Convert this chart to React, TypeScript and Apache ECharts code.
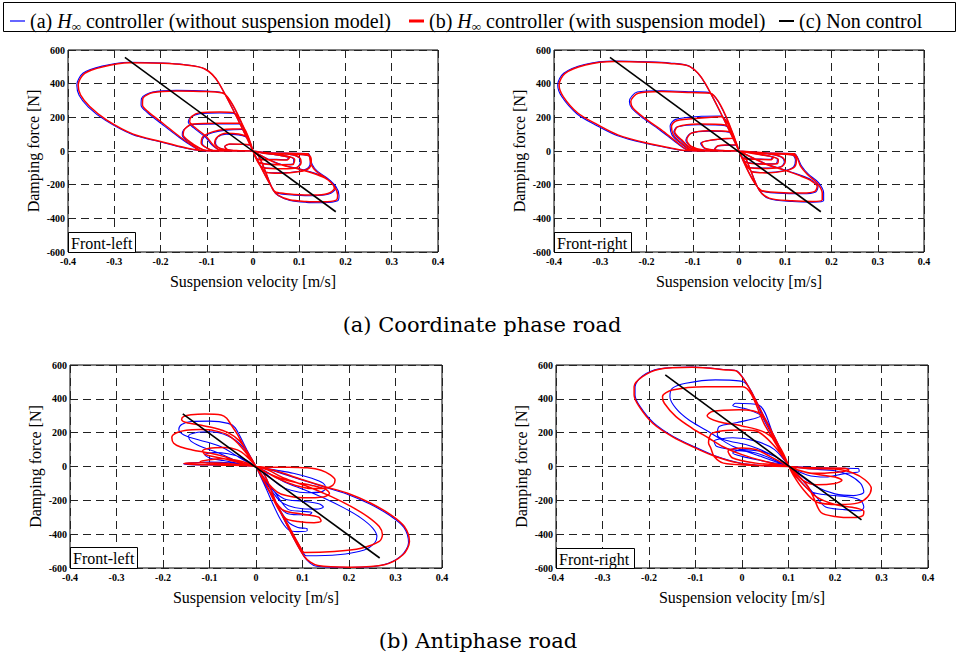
import React, { useEffect, useRef } from "react";
import * as echarts from "echarts";

const xTicks = [-0.4, -0.3, -0.2, -0.1, 0, 0.1, 0.2, 0.3, 0.4];
const yTicks = [-600, -400, -200, 0, 200, 400, 600];
const seriesNames = ["a", "b", "c"];
const panelLabels = ["Front-left", "Front-right", "Front-left", "Front-right"];
const captions = ["(a) Coordinate phase road", "(b) Antiphase road"];

// ---- Top-left (coordinate phase, front-left)
const tlRed = [
  [[0,0],[-0.0735,402],[-0.104,487],[-0.15,512],[-0.195,521],[-0.267,524],[-0.324,501],[-0.364,461],[-0.378,392],[-0.373,333],[-0.353,264],[-0.317,185],[-0.259,100],[-0.202,58],[-0.144,18],[-0.11,3],[-0.05,0],[0,0]],
  [[0,0],[-0.062,340],[-0.101,353],[-0.166,357],[-0.216,347],[-0.238,313],[-0.239,274],[-0.227,234],[-0.195,165],[-0.159,86],[-0.13,31],[-0.112,3],[-0.06,0],[0,0]],
  [[0,0],[-0.042,228],[-0.072,232],[-0.115,228],[-0.133,204],[-0.137,175],[-0.126,141],[-0.101,86],[-0.086,35],[-0.072,7],[-0.03,0],[0,0]],
  [[0,0],[-0.03,165],[-0.072,165],[-0.13,161],[-0.148,129],[-0.151,96],[-0.137,56],[-0.115,17],[-0.1,3],[-0.05,2],[0,0]],
  [[0,0],[-0.024,132],[-0.058,129],[-0.086,115],[-0.108,86],[-0.112,46],[-0.1,18],[-0.086,3],[-0.04,2],[0,0]],
  [[0,0],[-0.016,88],[-0.058,106],[-0.076,86],[-0.083,46],[-0.072,17],[-0.043,3],[0,0]],
  [[0,0],[-0.007,37],[-0.05,42],[-0.061,27],[-0.054,7],[-0.03,2],[0,0]],
  [[0,0],[0.043,-230],[0.054,-262],[0.079,-290],[0.115,-300],[0.151,-302],[0.18,-292],[0.183,-262],[0.176,-212],[0.158,-162],[0.137,-122],[0.126,-82],[0.122,-32],[0.119,-16],[0.079,-14],[0.029,-10],[0,0]],
  [[0,0],[0.045,-235],[0.06,-250],[0.09,-258],[0.13,-262],[0.162,-252],[0.176,-222],[0.17,-190],[0.155,-160],[0.13,-132],[0.1,-108],[0.07,-90],[0.04,-60],[0,0]],
  [[0,0],[0.029,-128],[0.058,-132],[0.101,-122],[0.122,-100],[0.126,-60],[0.122,-28],[0.08,-18],[0.03,-12],[0,0]],
  [[0,0],[0.022,-100],[0.065,-106],[0.094,-100],[0.104,-70],[0.101,-40],[0.079,-20],[0.03,-12],[0,0]],
  [[0,0],[0.014,-70],[0.058,-82],[0.086,-80],[0.09,-50],[0.072,-30],[0.03,-14],[0,0]],
  [[0,0],[0.011,-50],[0.05,-52],[0.072,-54],[0.079,-40],[0.058,-26],[0.02,-12],[0,0]],
];
const tlBlue = [
  [[0,0],[-0.074,404],[-0.105,489],[-0.15,514],[-0.195,523],[-0.268,527],[-0.326,504],[-0.367,463],[-0.381,392],[-0.376,331],[-0.356,261],[-0.319,182],[-0.261,98],[-0.203,56],[-0.145,16],[-0.11,2],[-0.05,0],[0,0]],
  [[0,0],[-0.063,342],[-0.102,356],[-0.166,360],[-0.217,350],[-0.241,313],[-0.242,272],[-0.229,230],[-0.197,160],[-0.16,82],[-0.131,28],[-0.112,2],[-0.06,0],[0,0]],
  [[0,0],[-0.043,224],[-0.072,226],[-0.115,222],[-0.135,200],[-0.14,172],[-0.128,137],[-0.103,82],[-0.088,33],[-0.072,6],[-0.03,0],[0,0]],
  [[0,0],[-0.03,160],[-0.072,160],[-0.13,157],[-0.15,126],[-0.153,94],[-0.139,54],[-0.116,16],[-0.1,2],[-0.05,2],[0,0]],
  [[0,0],[-0.024,128],[-0.058,124],[-0.086,110],[-0.106,84],[-0.11,46],[-0.1,18],[-0.086,3],[-0.04,2],[0,0]],
  [[0,0],[-0.016,84],[-0.058,100],[-0.076,84],[-0.081,46],[-0.072,17],[-0.043,3],[0,0]],
  [[0,0],[-0.007,35],[-0.05,40],[-0.061,27],[-0.054,7],[-0.03,2],[0,0]],
  [[0,0],[0.044,-234],[0.055,-266],[0.08,-294],[0.115,-305],[0.151,-307],[0.183,-296],[0.186,-264],[0.179,-210],[0.16,-160],[0.139,-120],[0.128,-80],[0.123,-30],[0.12,-15],[0.079,-13],[0.029,-9],[0,0]],
  [[0,0],[0.046,-240],[0.06,-255],[0.09,-262],[0.13,-266],[0.164,-256],[0.178,-224],[0.172,-190],[0.157,-158],[0.131,-130],[0.1,-106],[0.07,-88],[0.04,-58],[0,0]],
  [[0,0],[0.029,-126],[0.058,-130],[0.101,-120],[0.12,-98],[0.124,-60],[0.12,-28],[0.08,-18],[0.03,-12],[0,0]],
  [[0,0],[0.022,-98],[0.065,-104],[0.094,-98],[0.102,-70],[0.1,-40],[0.079,-20],[0.03,-12],[0,0]],
  [[0,0],[0.014,-68],[0.058,-80],[0.086,-78],[0.088,-50],[0.072,-30],[0.03,-14],[0,0]],
  [[0,0],[0.011,-48],[0.05,-50],[0.072,-52],[0.077,-40],[0.058,-26],[0.02,-12],[0,0]],
];
const tlBlack = [[-0.277,556],[0.179,-361]];

// ---- Top-right (coordinate phase, front-right)
const trRed = [
  [[0,0],[-0.073,402],[-0.106,501],[-0.15,520],[-0.197,527],[-0.269,531],[-0.332,511],[-0.376,461],[-0.389,392],[-0.38,323],[-0.348,224],[-0.305,155],[-0.262,96],[-0.204,50],[-0.146,17],[-0.117,3],[-0.05,0],[0,0]],
  [[0,0],[-0.062,343],[-0.103,347],[-0.168,353],[-0.218,343],[-0.234,293],[-0.229,254],[-0.204,195],[-0.168,126],[-0.132,47],[-0.11,7],[-0.05,0],[0,0]],
  [[0,0],[-0.039,204],[-0.081,196],[-0.135,180],[-0.146,145],[-0.142,96],[-0.124,47],[-0.103,7],[-0.05,0],[0,0]],
  [[0,0],[-0.03,155],[-0.088,160],[-0.132,145],[-0.139,115],[-0.124,66],[-0.103,17],[-0.05,2],[0,0]],
  [[0,0],[-0.022,115],[-0.066,121],[-0.103,106],[-0.113,66],[-0.103,27],[-0.074,4],[0,0]],
  [[0,0],[-0.015,76],[-0.059,66],[-0.081,47],[-0.074,17],[-0.045,3],[0,0]],
  [[0,0],[-0.008,37],[-0.045,31],[-0.052,11],[-0.03,2],[0,0]],
  [[0,0],[0.043,-230],[0.065,-280],[0.115,-296],[0.159,-300],[0.18,-290],[0.18,-250],[0.169,-190],[0.148,-140],[0.133,-90],[0.126,-40],[0.119,-16],[0.08,-14],[0.03,-10],[0,0]],
  [[0,0],[0.047,-232],[0.086,-246],[0.137,-250],[0.164,-240],[0.169,-210],[0.155,-175],[0.13,-145],[0.1,-115],[0.06,-80],[0,0]],
  [[0,0],[0.03,-125],[0.06,-130],[0.1,-118],[0.12,-95],[0.124,-55],[0.118,-25],[0.08,-16],[0,0]],
  [[0,0],[0.022,-98],[0.062,-104],[0.09,-96],[0.1,-66],[0.094,-38],[0.07,-20],[0,0]],
  [[0,0],[0.014,-66],[0.055,-78],[0.082,-76],[0.085,-50],[0.065,-30],[0,0]],
  [[0,0],[0.011,-46],[0.048,-50],[0.07,-52],[0.074,-38],[0.05,-24],[0,0]],
];
const trBlue = [
  [[0,0],[-0.074,404],[-0.107,503],[-0.15,523],[-0.197,530],[-0.27,534],[-0.334,514],[-0.379,462],[-0.392,392],[-0.383,322],[-0.35,220],[-0.307,150],[-0.264,92],[-0.205,47],[-0.147,15],[-0.117,2],[-0.05,0],[0,0]],
  [[0,0],[-0.063,346],[-0.104,352],[-0.168,358],[-0.22,350],[-0.237,296],[-0.232,254],[-0.206,192],[-0.17,122],[-0.133,44],[-0.11,6],[-0.05,0],[0,0]],
  [[0,0],[-0.04,208],[-0.081,206],[-0.137,188],[-0.149,148],[-0.145,96],[-0.126,45],[-0.104,6],[-0.05,0],[0,0]],
  [[0,0],[-0.03,150],[-0.088,156],[-0.134,142],[-0.141,113],[-0.126,64],[-0.104,16],[-0.05,2],[0,0]],
  [[0,0],[-0.022,112],[-0.066,118],[-0.105,104],[-0.115,64],[-0.104,26],[-0.074,4],[0,0]],
  [[0,0],[-0.015,74],[-0.06,64],[-0.083,46],[-0.075,17],[-0.045,3],[0,0]],
  [[0,0],[-0.008,35],[-0.046,30],[-0.053,11],[-0.03,2],[0,0]],
  [[0,0],[0.044,-234],[0.066,-284],[0.115,-300],[0.159,-304],[0.183,-294],[0.183,-250],[0.172,-188],[0.15,-138],[0.135,-88],[0.127,-40],[0.12,-15],[0.08,-13],[0.03,-9],[0,0]],
  [[0,0],[0.048,-236],[0.086,-250],[0.137,-254],[0.166,-243],[0.171,-210],[0.157,-173],[0.132,-143],[0.1,-113],[0.06,-78],[0,0]],
  [[0,0],[0.03,-123],[0.06,-128],[0.1,-116],[0.118,-94],[0.122,-55],[0.116,-25],[0.08,-16],[0,0]],
  [[0,0],[0.022,-96],[0.062,-102],[0.09,-94],[0.098,-66],[0.092,-38],[0.07,-20],[0,0]],
  [[0,0],[0.014,-64],[0.055,-76],[0.08,-74],[0.083,-50],[0.065,-30],[0,0]],
  [[0,0],[0.011,-44],[0.048,-48],[0.068,-50],[0.072,-38],[0.05,-24],[0,0]],
];
const trBlack = [[-0.279,556],[0.177,-361]];

// ---- Bottom-left (antiphase, front-left)
const blRed = [
  [[0,0],[-0.02,90],[-0.04,190],[-0.052,240],[-0.063,285],[-0.075,305],[-0.11,311],[-0.14,306],[-0.155,296],[-0.16,278],[-0.15,260],[-0.12,245],[-0.09,228],[-0.06,200],[-0.035,150],[-0.015,70],[0,0]],
  [[0,0],[-0.03,110],[-0.06,185],[-0.09,212],[-0.12,218],[-0.15,214],[-0.172,198],[-0.181,172],[-0.177,138],[-0.162,115],[-0.137,98],[-0.1,80],[-0.07,60],[-0.04,30],[-0.02,10],[0,0]],
  [[0,0],[-0.02,60],[-0.04,98],[-0.07,112],[-0.1,108],[-0.115,92],[-0.11,72],[-0.09,58],[-0.06,40],[-0.03,18],[0,0]],
  [[0,0],[-0.03,30],[-0.07,46],[-0.1,40],[-0.12,28],[-0.1,18],[-0.06,14],[-0.02,5],[0,0]],
  [[0,0],[-0.06,18],[-0.12,22],[-0.155,18],[-0.13,12],[-0.07,8],[0,0]],
  [[0,0],[0.05,-255],[0.104,-532],[0.133,-585],[0.204,-595],[0.276,-581],[0.316,-522],[0.33,-443],[0.319,-355],[0.29,-286],[0.247,-217],[0.197,-158],[0.147,-118],[0.097,-75],[0.047,-30],[0.018,-10],[0,0]],
  [[0,0],[0.05,-250],[0.1,-500],[0.104,-508],[0.168,-502],[0.226,-483],[0.265,-443],[0.272,-404],[0.265,-355],[0.24,-296],[0.204,-236],[0.161,-177],[0.111,-118],[0.061,-69],[0.025,-20],[0,0]],
  [[0,0],[0.03,-5],[0.07,-4],[0.11,-8],[0.14,-22],[0.16,-50],[0.17,-80],[0.165,-112],[0.148,-128],[0.12,-130],[0.085,-112],[0.05,-75],[0.02,-30],[0,0]],
  [[0,0],[0.03,-45],[0.07,-85],[0.12,-112],[0.15,-135],[0.158,-160],[0.145,-180],[0.1,-185],[0.065,-172],[0.045,-150],[0.02,-80],[0,0]],
  [[0,0],[0.04,-200],[0.06,-260],[0.1,-282],[0.135,-300],[0.14,-322],[0.125,-332],[0.09,-325],[0.065,-310],[0.05,-260],[0.02,-100],[0,0]],
];
const blBlue = [
  [[0,0],[-0.02,100],[-0.045,230],[-0.06,255],[-0.1,268],[-0.14,266],[-0.16,248],[-0.166,218],[-0.156,188],[-0.13,162],[-0.1,140],[-0.07,110],[-0.04,60],[-0.015,20],[0,0]],
  [[0,0],[-0.03,120],[-0.06,180],[-0.1,205],[-0.13,200],[-0.145,180],[-0.14,150],[-0.12,120],[-0.09,90],[-0.06,55],[-0.03,20],[0,0]],
  [[0,0],[-0.03,50],[-0.06,75],[-0.09,82],[-0.11,70],[-0.1,50],[-0.07,35],[-0.03,15],[0,0]],
  [[0,0],[-0.05,20],[-0.1,26],[-0.156,16],[-0.14,10],[-0.08,8],[0,0]],
  [[0,0],[0.05,-258],[0.104,-535],[0.13,-590],[0.2,-597],[0.27,-584],[0.312,-528],[0.328,-450],[0.318,-360],[0.288,-290],[0.245,-222],[0.195,-162],[0.145,-120],[0.095,-76],[0.045,-32],[0.018,-10],[0,0]],
  [[0,0],[0.05,-255],[0.104,-520],[0.108,-528],[0.176,-522],[0.233,-493],[0.255,-453],[0.26,-414],[0.251,-364],[0.226,-305],[0.19,-246],[0.147,-187],[0.104,-138],[0.06,-90],[0.025,-35],[0,0]],
  [[0,0],[0.04,-20],[0.08,-40],[0.12,-70],[0.145,-100],[0.15,-130],[0.14,-150],[0.11,-155],[0.075,-140],[0.05,-110],[0.02,-40],[0,0]],
  [[0,0],[0.03,-120],[0.06,-190],[0.1,-205],[0.135,-220],[0.145,-240],[0.13,-252],[0.1,-250],[0.07,-232],[0.05,-200],[0.02,-90],[0,0]],
  [[0,0],[0.05,-250],[0.07,-330],[0.09,-360],[0.11,-368],[0.11,-380],[0.09,-385],[0.07,-375],[0.05,-300],[0.02,-120],[0,0]],
  [[0,0],[0.04,-150],[0.07,-255],[0.1,-265],[0.12,-272],[0.115,-285],[0.09,-285],[0.065,-275],[0.04,-200],[0,0]],
];
const blBlack = [[-0.1575,311],[0.266,-541]];

// ---- Bottom-right (antiphase, front-right)
const brRed = [
  [[0.101,0],[0.05,280],[-0.01,561],[-0.035,571],[-0.107,586],[-0.178,575],[-0.214,531],[-0.232,472],[-0.232,423],[-0.221,354],[-0.192,256],[-0.15,177],[-0.107,118],[-0.057,59],[-0.006,20],[0.051,4],[0.101,0]],
  [[0.101,0],[0.05,240],[0.001,472],[-0.078,472],[-0.15,452],[-0.171,413],[-0.167,374],[-0.142,295],[-0.107,226],[-0.071,167],[-0.042,118],[0,70],[0.05,30],[0.101,0]],
  [[0.101,0],[0.07,160],[0.04,310],[-0.006,335],[-0.064,325],[-0.075,300],[-0.05,265],[0,240],[0.05,200],[0.08,120],[0.101,0]],
  [[0.101,0],[0.07,120],[0.03,210],[-0.006,216],[-0.064,197],[-0.072,140],[-0.067,108],[-0.06,59],[-0.04,20],[0.02,8],[0.101,0]],
  [[0.101,0],[0.06,60],[0.03,100],[0,110],[-0.03,90],[-0.02,50],[0.03,20],[0.101,0]],
  [[0.101,0],[0.12,-50],[0.14,-110],[0.155,-190],[0.17,-272],[0.2,-295],[0.24,-302],[0.26,-290],[0.262,-265],[0.245,-245],[0.2,-225],[0.16,-180],[0.13,-100],[0.11,-40],[0.101,0]],
  [[0.101,0],[0.14,-12],[0.2,-15],[0.24,-40],[0.265,-80],[0.278,-130],[0.27,-180],[0.25,-215],[0.21,-225],[0.16,-210],[0.13,-130],[0.11,-50],[0.101,0]],
  [[0.101,0],[0.13,-30],[0.17,-50],[0.2,-62],[0.215,-82],[0.2,-100],[0.16,-108],[0.13,-80],[0.11,-30],[0.101,0]],
  [[0.101,0],[0.15,-8],[0.22,-10],[0.23,-20],[0.2,-35],[0.15,-40],[0.12,-20],[0.101,0]],
];
const brBlue = [
  [[0.101,0],[0.05,282],[-0.01,563],[-0.035,573],[-0.107,588],[-0.178,577],[-0.214,535],[-0.23,472],[-0.23,423],[-0.219,354],[-0.19,258],[-0.148,178],[-0.105,120],[-0.055,60],[-0.004,20],[0.051,4],[0.101,0]],
  [[0.101,0],[0.05,260],[0.001,502],[-0.057,512],[-0.121,492],[-0.15,462],[-0.155,413],[-0.142,344],[-0.114,275],[-0.078,216],[-0.049,167],[-0.02,120],[0.04,60],[0.101,0]],
  [[0.101,0],[0.07,170],[0.036,364],[-0.014,374],[-0.02,360],[0.01,340],[0.04,300],[-0.01,260],[-0.049,236],[-0.053,187],[-0.04,160],[0.02,120],[0.07,60],[0.101,0]],
  [[0.101,0],[0.07,100],[0.03,150],[-0.02,170],[-0.06,150],[-0.055,120],[-0.02,100],[0.03,80],[0.06,50],[0.101,0]],
  [[0.101,0],[0.07,60],[0.04,90],[0,100],[-0.02,80],[0,60],[0.05,30],[0.101,0]],
  [[0.101,0],[0.13,-80],[0.16,-180],[0.18,-240],[0.22,-255],[0.255,-262],[0.262,-240],[0.255,-200],[0.23,-180],[0.19,-170],[0.15,-150],[0.12,-70],[0.101,0]],
  [[0.101,0],[0.15,-15],[0.2,-25],[0.23,-50],[0.255,-100],[0.262,-150],[0.24,-172],[0.2,-162],[0.16,-120],[0.12,-40],[0.101,0]],
  [[0.101,0],[0.2,-10],[0.25,-12],[0.252,-30],[0.22,-42],[0.18,-62],[0.14,-50],[0.101,0]],
];
const brBlack = [[-0.165,541],[0.257,-315]];

const panels = [
  { blue: tlBlue, red: tlRed, black: tlBlack },
  { blue: trBlue, red: trRed, black: trBlack },
  { blue: blBlue, red: blRed, black: blBlack },
  { blue: brBlue, red: brRed, black: brBlack },
];

const grids = [
  { left: 68, top: 50, width: 370, height: 202 },
  { left: 554, top: 50, width: 370, height: 202 },
  { left: 70, top: 365, width: 372, height: 203 },
  { left: 556, top: 365, width: 372, height: 203 },
];
const labelBoxes = [
  { x: 68, y: 232, w: 67, h: 20 },
  { x: 554, y: 232, w: 77, h: 20 },
  { x: 70, y: 547, w: 67, h: 21 },
  { x: 556, y: 548, w: 78, h: 20 },
];
const legendLayout = [
  { left: 5, itemHeight: 1.2 },
  { left: 404, itemHeight: 3 },
  { left: 774, itemHeight: 2 },
];

const SERIF = '"Liberation Serif", "Times New Roman", serif';

export default function App() {
  const ref = useRef<HTMLDivElement>(null);
  useEffect(() => {
    document.body.style.margin = "0";
    const chart = echarts.init(ref.current!, null, { renderer: "svg" });
    const flat = (loops: number[][][]) => loops.flat();
    const series: any[] = [];
    panels.forEach((p, i) => {
      series.push({
        name: "a", type: "line", xAxisIndex: i, yAxisIndex: i, data: flat(p.blue),
        symbol: "none", smooth: 0.3, lineStyle: { color: "#0000ff", width: 1.1 }, itemStyle: { color: "#0000ff" }, z: 2, silent: true,
      });
      series.push({
        name: "b", type: "line", xAxisIndex: i, yAxisIndex: i, data: flat(p.red),
        symbol: "none", smooth: 0.3, lineStyle: { color: "#ff0000", width: 1.5 }, itemStyle: { color: "#ff0000" }, z: 3, silent: true,
      });
      series.push({
        name: "c", type: "line", xAxisIndex: i, yAxisIndex: i, data: p.black,
        symbol: "none", lineStyle: { color: "#000000", width: 1.6 }, itemStyle: { color: "#000000" }, z: 4, silent: true,
      });
    });
    const legendText: Record<string, string> = {
      a: "{n|(a) }{i|H}{s|∞}{n| controller (without suspension model)}",
      b: "{n|(b) }{i|H}{s|∞}{n| controller (with suspension model)}",
      c: "{n|(c) Non control}",
    };
    const rich = {
      n: { fontFamily: SERIF, fontSize: 20, color: "#000", lineHeight: 24 },
      i: { fontFamily: SERIF, fontSize: 20, fontStyle: "italic", color: "#000", lineHeight: 24 },
      s: { fontFamily: SERIF, fontSize: 13, fontStyle: "italic", color: "#000", verticalAlign: "bottom", lineHeight: 14 },
    };
    const legend = seriesNames.map((nm, k) => ({
      data: [nm],
      left: legendLayout[k].left, top: 4,
      itemWidth: 15, itemHeight: legendLayout[k].itemHeight, icon: "rect",
      selectedMode: false,
      formatter: (n: string) => legendText[n],
      textStyle: { fontFamily: SERIF, fontSize: 20, color: "#000", lineHeight: 24, rich },
    }));
    const graphic: any[] = [
      { type: "rect", shape: { x: 3.5, y: 2.5, width: 952, height: 29 }, style: { fill: "none", stroke: "#000", lineWidth: 1 }, z: 10 },
      { type: "text", style: { text: captions[0], x: 482, y: 325, align: "center", verticalAlign: "middle", font: '21px "DejaVu Serif", serif', fill: "#000" } },
      { type: "text", style: { text: captions[1], x: 478, y: 641, align: "center", verticalAlign: "middle", font: '21px "DejaVu Serif", serif', fill: "#000" } },
    ];
    labelBoxes.forEach((b, i) => {
      graphic.push({ type: "rect", shape: { x: b.x + 0.5, y: b.y + 0.5, width: b.w, height: b.h }, style: { fill: "#fff", stroke: "#000", lineWidth: 1 }, z: 20 });
      graphic.push({ type: "text", style: { text: panelLabels[i], x: b.x + 3, y: b.y + b.h / 2 + 1, verticalAlign: "middle", font: `16px ${SERIF}`, fill: "#000" }, z: 21 });
    });
    chart.setOption({
      animation: false,
      backgroundColor: "#fff",
      legend,
      grid: grids.map((g) => ({ ...g, show: true, borderColor: "#000", borderWidth: 1, backgroundColor: "transparent" })),
      xAxis: grids.map((_, i) => ({
        type: "value", gridIndex: i, min: xTicks[0], max: xTicks[xTicks.length - 1], interval: 0.1,
        name: "Suspension velocity [m/s]", nameLocation: "middle", nameGap: 21,
        nameTextStyle: { fontFamily: SERIF, fontSize: 16, color: "#000" },
        axisLine: { show: false }, axisTick: { show: false },
        axisLabel: { fontFamily: SERIF, fontSize: 10, fontWeight: "bold", color: "#000", margin: 4,
          formatter: (v: number) => (Math.abs(v) < 1e-9 ? "0" : String(Number(v.toFixed(1)))) },
        splitLine: { show: true, lineStyle: { color: "#222", width: 1, type: [8, 5] } },
      })),
      yAxis: grids.map((_, i) => ({
        type: "value", gridIndex: i, min: yTicks[0], max: yTicks[yTicks.length - 1], interval: 200,
        name: "Damping force [N]", nameLocation: "middle", nameGap: 27,
        nameTextStyle: { fontFamily: SERIF, fontSize: 16, color: "#000" },
        axisLine: { show: false }, axisTick: { show: false },
        axisLabel: { fontFamily: SERIF, fontSize: 10, fontWeight: "bold", color: "#000", margin: 3 },
        splitLine: { show: true, lineStyle: { color: "#222", width: 1, type: [8, 5] } },
      })),
      graphic,
      series,
    });
    return () => chart.dispose();
  }, []);
  return <div ref={ref} style={{ width: 961, height: 661 }} />;
}
